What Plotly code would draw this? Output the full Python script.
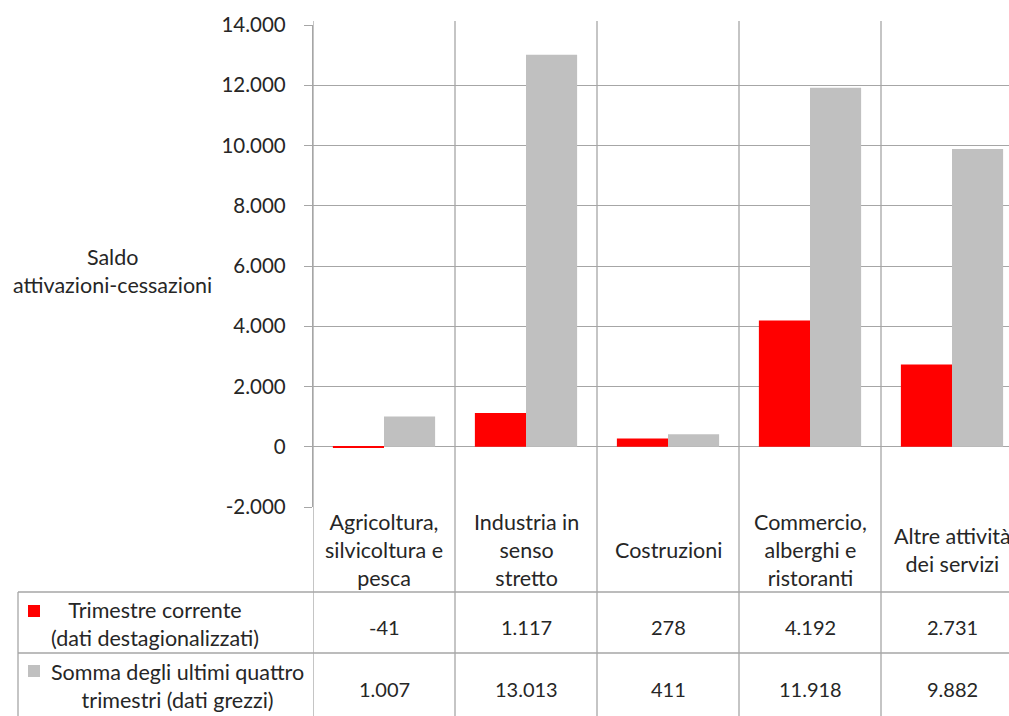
import plotly.graph_objects as go

categories = ["Agricoltura,<br>silvicoltura e<br>pesca", "Industria in<br>senso<br>stretto",
              "Costruzioni", "Commercio,<br>alberghi e<br>ristoranti", "Altre attività<br>dei servizi"]
trimestre_corrente = [-41, 1117, 278, 4192, 2731]
somma_quattro = [1007, 13013, 411, 11918, 9882]
series_names = ["Trimestre corrente<br>(dati destagionalizzati)",
                "Somma degli ultimi quattro<br>trimestri (dati grezzi)"]
ytick_vals = [-2000, 0, 2000, 4000, 6000, 8000, 10000, 12000, 14000]
ytick_text = [f"{v:,}".replace(",", ".") for v in ytick_vals]

RED = "#FF0000"
GREY = "#C0C0C0"
LINE = "#A6A6A6"
FONT = "Lato"
TXT = "#262626"
TSIZE = 21.5
VSIZE = 20
KSIZE = 20.5

W, H = 1009, 716
L, R, T, B = 313, 0, 25, 209
PW = W - L - R
PH = H - T - B

def px(x):
    return (x - L) / PW

def py(y):
    return (H - B - y) / PH

xs = list(range(len(categories)))

fig = go.Figure()
fig.add_bar(x=xs, y=trimestre_corrente, marker_color=RED, marker_line_width=0,
            name=series_names[0], showlegend=False)
fig.add_bar(x=xs, y=somma_quattro, marker_color=GREY, marker_line_width=0,
            name=series_names[1], showlegend=False)

shapes = []
ann = []
bottom = py(H + 5)
# vertical category separators
for i in range(len(categories) + 1):
    shapes.append(dict(type="line", xref="x", yref="paper", x0=i - 0.5, x1=i - 0.5,
                       y0=1.0 + 4 / PH, y1=bottom, line=dict(color=LINE, width=1.3)))
# table horizontal lines
for yy in [592, 653]:
    shapes.append(dict(type="line", xref="paper", yref="paper", x0=px(18), x1=px(W + 5),
                       y0=py(yy), y1=py(yy), line=dict(color=LINE, width=1.3)))
shapes.append(dict(type="line", xref="paper", yref="paper", x0=px(18), x1=px(18),
                   y0=py(592), y1=bottom, line=dict(color=LINE, width=1.3)))
# legend keys
for (y0, col) in [(605, RED), (665, GREY)]:
    shapes.append(dict(type="rect", xref="paper", yref="paper", x0=px(28), x1=px(40),
                       y0=py(y0 + 12), y1=py(y0), fillcolor=col, line_width=0))

# category labels
for i, c in enumerate(categories):
    ann.append(dict(x=i, y=py(550), xref="x", yref="paper", text=c, showarrow=False,
                    font=dict(family=FONT, size=TSIZE, color=TXT), align="center",
                    xanchor="center", yanchor="middle"))
# table values
for i in xs:
    ann.append(dict(x=i, y=py(627), xref="x", yref="paper",
                    text=f"{trimestre_corrente[i]:,}".replace(",", "."), showarrow=False,
                    font=dict(family=FONT, size=VSIZE, color=TXT), xanchor="center", yanchor="middle"))
    ann.append(dict(x=i, y=py(689), xref="x", yref="paper",
                    text=f"{somma_quattro[i]:,}".replace(",", "."), showarrow=False,
                    font=dict(family=FONT, size=VSIZE, color=TXT), xanchor="center", yanchor="middle"))
# series names in the table
ann.append(dict(x=px(155), y=py(624), xref="paper", yref="paper", text=series_names[0],
                showarrow=False, font=dict(family=FONT, size=TSIZE, color=TXT), align="center",
                xanchor="center", yanchor="middle"))
ann.append(dict(x=px(177), y=py(686), xref="paper", yref="paper", text=series_names[1],
                showarrow=False, font=dict(family=FONT, size=TSIZE, color=TXT), align="center",
                xanchor="center", yanchor="middle"))
# y axis title
ann.append(dict(x=px(112), y=py(271), xref="paper", yref="paper",
                text="Saldo<br>attivazioni-cessazioni", showarrow=False,
                font=dict(family=FONT, size=TSIZE, color=TXT), align="center",
                xanchor="center", yanchor="middle"))

fig.update_layout(
    width=W, height=H,
    margin=dict(l=L, r=R, t=T, b=B, pad=0),
    paper_bgcolor="white", plot_bgcolor="white",
    barmode="group", bargap=0.28, bargroupgap=0,
    shapes=shapes, annotations=ann,
    font=dict(family=FONT, size=TSIZE, color=TXT),
    xaxis=dict(range=[-0.5, -0.5 + PW / 142], showticklabels=False, showgrid=False,
               zeroline=False, showline=False, ticks="", fixedrange=True),
    yaxis=dict(range=[-2000, 14000], tickvals=ytick_vals, ticktext=ytick_text,
               showgrid=True, gridcolor=LINE, gridwidth=1, zeroline=True,
               zerolinecolor=LINE, zerolinewidth=1, showline=True, linecolor=LINE,
               linewidth=1.3, ticks="outside", ticklen=8, tickcolor=LINE,
               tickfont=dict(family=FONT, size=KSIZE, color=TXT), ticklabelstandoff=14),
)

fig.write_html("out.html", config={"displayModeBar": False},
               post_script="document.body.style.margin='0';document.body.style.overflow='hidden';")
